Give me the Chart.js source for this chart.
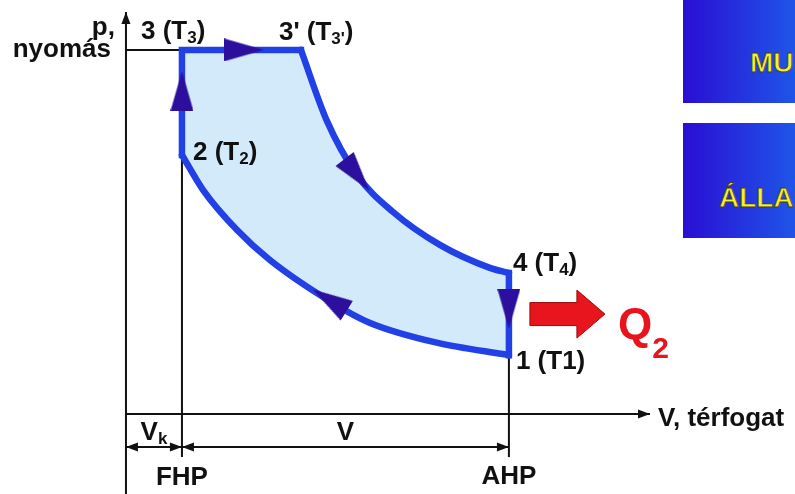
<!DOCTYPE html>
<html lang="hu">
<head>
<meta charset="utf-8">
<title>Dízel-körfolyamat p–V diagramja</title>
<script src="https://cdn.jsdelivr.net/npm/chart.js@4.4.1/dist/chart.umd.min.js"></script>
<style>
  html, body { margin: 0; padding: 0; background: #fff; overflow: hidden; }
  #wrap { position: relative; width: 795px; height: 494px; }
  #pv { position: absolute; left: 0; top: 0; }
  .box {
    position: absolute; left: 683px; width: 112px; overflow: hidden;
    background: linear-gradient(to right, #2a0ed4, #1f55e8);
  }
  .box span {
    position: absolute; white-space: nowrap;
    font: bold 28px "Liberation Sans", Arial, sans-serif; line-height: 28px;
    color: #f3ef3c; -webkit-text-stroke: 0.8px #4a4010;
  }
</style>
</head>
<body>
<div id="wrap">
  <canvas id="pv" width="795" height="494"></canvas>
  <div class="box" style="top:0; height:103px;"><span style="left:67px; top:49px;">MU</span></div>
  <div class="box" style="top:123px; height:115px;"><span style="left:36px; top:61px;">ÁLLA</span></div>
</div>
<script>
  // állapotpontok: V a kompressziótér (Vk) egységében, p tetszőleges egységben
  const stateNames = ['1', '2', '3', "3'", '4'];
  const stateV = [6.84, 1, 1, 3.125, 6.84];
  const stateP = [11.3, 49.8, 70, 70, 27.1];

  // 3' -> 4 expanzió
  const expansionV = [3.125, 3.589, 4.125, 4.768, 5.607, 6.5, 6.84];
  const expansionP = [70, 56.35, 45.96, 38.85, 32.5, 28.08, 27.1];

  // 2 <- 1 kompresszió (V szerint növekvő sorrendben)
  const compressionV = [1, 1.375, 1.98, 2.57, 3.7, 4.36, 5.55, 6.84];
  const compressionP = [49.8, 43.1, 35.4, 29.6, 21.3, 17.5, 13.7, 11.3];

  // irányjelző nyilak a körfolyamaton
  const flowV = [1, 2.107, 4.125, 6.84, 3.64];
  const flowP = [62.1, 70, 46.0, 20.2, 21.9];
  const flowRot = [0, 90, 142, 180, 302];

  // tengelyek, segédvonalak
  const axisV = [0, 9.36];
  const axisP = [-15.4, 77.3];
  const dropP = -8.3;   // FHP / AHP vonal alja
  const dimP = -6.35;   // Vk, V méretvonal

  const xRange = [-2.25, 11.95];
  const yRange = [-15.4, 79.6];

  const BLUE = '#2141e6';
  const INDIGO = '#2d0f9e';
  const FILL = '#d3eafb';
  const INK = '#111';
  const FONT = '"Liberation Sans", Arial, sans-serif';

  const zip = (vs, ps) => vs.map((v, i) => ({ x: v, y: ps[i] }));
  const st = name => {
    const i = stateNames.indexOf(name);
    return { x: stateV[i], y: stateP[i] };
  };

  function makeArrowImg(w, h, color) {
    const c = document.createElement('canvas');
    c.width = w;
    c.height = h;
    const g = c.getContext('2d');
    g.fillStyle = color;
    g.beginPath();
    g.moveTo(w / 2, 0);
    g.lineTo(w, h);
    g.lineTo(0, h);
    g.closePath();
    g.fill();
    return c;
  }

  function inkLine(data, tips) {
    return {
      data: data, borderColor: INK, borderWidth: 2, fill: false,
      pointRadius: 0, tips: tips || [], order: 5
    };
  }

  function blueLine(data, smooth) {
    return {
      data: data, borderColor: BLUE, borderWidth: 6.5, fill: false,
      borderCapStyle: smooth ? 'round' : 'square', borderJoinStyle: 'miter',
      cubicInterpolationMode: smooth ? 'monotone' : 'default',
      tension: 0, pointRadius: 0, order: 2
    };
  }

  // a kitöltés ugyanazokat a görbéket követi, mint a körvonal
  const fillPlugin = {
    id: 'cycleFill',
    beforeDatasetsDraw(chart) {
      const ctx = chart.ctx;
      const sx = chart.scales.x, sy = chart.scales.y;
      const exp = chart.getDatasetMeta(9).dataset;
      const comp = chart.getDatasetMeta(11).dataset;
      exp.updateControlPoints(chart.chartArea, 'x');
      comp.updateControlPoints(chart.chartArea, 'x');
      const ep = exp.points, cp = comp.points;
      ctx.save();
      ctx.fillStyle = FILL;
      ctx.beginPath();
      ctx.moveTo(sx.getPixelForValue(st('2').x), sy.getPixelForValue(st('2').y));
      ctx.lineTo(sx.getPixelForValue(st('3').x), sy.getPixelForValue(st('3').y));
      ctx.lineTo(ep[0].x, ep[0].y);
      for (let i = 1; i < ep.length; i++) {
        ctx.bezierCurveTo(ep[i - 1].cp2x, ep[i - 1].cp2y, ep[i].cp1x, ep[i].cp1y, ep[i].x, ep[i].y);
      }
      ctx.lineTo(cp[cp.length - 1].x, cp[cp.length - 1].y);
      for (let i = cp.length - 1; i > 0; i--) {
        ctx.bezierCurveTo(cp[i].cp1x, cp[i].cp1y, cp[i - 1].cp2x, cp[i - 1].cp2y, cp[i - 1].x, cp[i - 1].y);
      }
      ctx.closePath();
      ctx.fill();
      ctx.restore();
    }
  };

  const datasets = [
    { data: [], pointRadius: 0, borderWidth: 0, order: 10 },
    inkLine([{ x: 0, y: axisP[0] }, { x: 0, y: axisP[1] }], ['end']),
    inkLine([{ x: axisV[0], y: 0 }, { x: axisV[1], y: 0 }], ['end']),
    inkLine([{ x: 0, y: st('3').y }, st('3')]),
    inkLine([{ x: st('2').x, y: dropP }, st('3')]),
    inkLine([{ x: st('1').x, y: dropP }, st('1')]),
    inkLine([{ x: 0, y: dimP }, { x: st('2').x, y: dimP }], ['start', 'end']),
    inkLine([{ x: st('2').x, y: dimP }, { x: st('1').x, y: dimP }], ['start', 'end']),
    blueLine([st('2'), st('3'), st("3'")], false),
    blueLine(zip(expansionV, expansionP), true),
    blueLine([st('4'), st('1')], false),
    blueLine(zip(compressionV, compressionP), true),
    {
      data: zip(flowV, flowP), showLine: false, fill: false,
      pointStyle: makeArrowImg(23, 40, INDIGO), pointRadius: 10,
      pointRotation: flowRot, order: 1
    }
  ];

  // kis fekete nyílhegyek a tengelyek és méretvonalak végein
  const tipPlugin = {
    id: 'tips',
    afterDatasetsDraw(chart) {
      const ctx = chart.ctx;
      chart.data.datasets.forEach((ds, i) => {
        if (!ds.tips || !ds.tips.length) return;
        const pts = chart.getDatasetMeta(i).data;
        ds.tips.forEach(end => {
          const a = end === 'end' ? pts[pts.length - 1] : pts[0];
          const b = end === 'end' ? pts[pts.length - 2] : pts[1];
          const ang = Math.atan2(a.y - b.y, a.x - b.x);
          const len = 12, hw = 4.5;
          ctx.save();
          ctx.translate(a.x, a.y);
          ctx.rotate(ang);
          ctx.fillStyle = ds.borderColor;
          ctx.beginPath();
          ctx.moveTo(0, 0);
          ctx.lineTo(-len, -hw);
          ctx.lineTo(-len, hw);
          ctx.closePath();
          ctx.fill();
          ctx.restore();
        });
      });
    }
  };

  function drawRich(ctx, parts, x, y, size, align, color) {
    const main = 'bold ' + size + 'px ' + FONT;
    const sub = 'bold ' + Math.round(size * 0.66) + 'px ' + FONT;
    let total = 0;
    parts.forEach(p => {
      ctx.font = p[1] ? sub : main;
      total += ctx.measureText(p[0]).width;
    });
    let cx = align === 'right' ? x - total : align === 'center' ? x - total / 2 : x;
    ctx.fillStyle = color;
    ctx.textAlign = 'left';
    ctx.textBaseline = 'alphabetic';
    parts.forEach(p => {
      ctx.font = p[1] ? sub : main;
      ctx.fillText(p[0], cx, y + (p[1] ? size * 0.16 : 0));
      cx += ctx.measureText(p[0]).width;
    });
  }

  const labels = [
    { parts: [['p,']], at: { x: 0, y: stateP[2] }, dx: -11, dy: -15, align: 'right' },
    { parts: [['nyomás']], at: { x: 0, y: stateP[2] }, dx: -15, dy: 7, align: 'right' },
    { parts: [['3 (T'], ['3', 1], [')']], at: st('3'), dx: -41, dy: -11 },
    { parts: [["3' (T"], ["3'", 1], [')']], at: st("3'"), dx: -22, dy: -10 },
    { parts: [['2 (T'], ['2', 1], [')']], at: st('2'), dx: 11, dy: 5 },
    { parts: [['4 (T'], ['4', 1], [')']], at: st('4'), dx: 4, dy: -2 },
    { parts: [['1 (T1)']], at: st('1'), dx: 7, dy: 14 },
    { parts: [['V, térfogat']], at: { x: axisV[1], y: 0 }, dx: 8, dy: 12 },
    { parts: [['V'], ['k', 1]], at: { x: st('2').x / 2, y: 0 }, dx: 0, dy: 26, align: 'center' },
    { parts: [['V']], at: { x: (st('2').x + st('1').x) / 2, y: 0 }, dx: 0, dy: 26, align: 'center' },
    { parts: [['FHP']], at: { x: st('2').x, y: 0 }, dx: 0, dy: 71, align: 'center' },
    { parts: [['AHP']], at: { x: st('1').x, y: 0 }, dx: 0, dy: 70, align: 'center' }
  ];

  const labelPlugin = {
    id: 'labels',
    afterDraw(chart) {
      const ctx = chart.ctx;
      const sx = chart.scales.x, sy = chart.scales.y;
      ctx.save();
      labels.forEach(l => {
        const x = sx.getPixelForValue(l.at.x) + l.dx;
        const y = sy.getPixelForValue(l.at.y) + l.dy;
        drawRich(ctx, l.parts, x, y, 26, l.align || 'left', INK);
      });

      // Q2 hőelvonás a 4 -> 1 szakasz mellett
      const ax = sx.getPixelForValue(st('1').x);
      const ay = (sy.getPixelForValue(st('4').y) + sy.getPixelForValue(st('1').y)) / 2;
      ctx.fillStyle = '#e8161c';
      ctx.strokeStyle = '#9a0a0a';
      ctx.lineWidth = 1;
      ctx.beginPath();
      ctx.moveTo(ax + 21, ay - 11.5);
      ctx.lineTo(ax + 68, ay - 11.5);
      ctx.lineTo(ax + 68, ay - 24);
      ctx.lineTo(ax + 96, ay);
      ctx.lineTo(ax + 68, ay + 24);
      ctx.lineTo(ax + 68, ay + 11.5);
      ctx.lineTo(ax + 21, ay + 11.5);
      ctx.closePath();
      ctx.fill();
      ctx.stroke();

      ctx.fillStyle = '#e8141c';
      ctx.textAlign = 'left';
      ctx.font = 'bold 44px ' + FONT;
      ctx.fillText('Q', ax + 109, ay + 25);
      const qw = ctx.measureText('Q').width;
      ctx.font = 'bold 30px ' + FONT;
      ctx.fillText('2', ax + 109 + qw, ay + 44);
      ctx.restore();
    }
  };

  new Chart(document.getElementById('pv'), {
    type: 'line',
    data: { datasets: datasets },
    options: {
      responsive: false,
      animation: false,
      layout: { padding: 0, autoPadding: false },
      scales: {
        x: { type: 'linear', min: xRange[0], max: xRange[1], display: false },
        y: { type: 'linear', min: yRange[0], max: yRange[1], display: false }
      },
      plugins: {
        legend: { display: false },
        tooltip: { enabled: false }
      }
    },
    plugins: [fillPlugin, tipPlugin, labelPlugin]
  });
</script>
</body>
</html>
